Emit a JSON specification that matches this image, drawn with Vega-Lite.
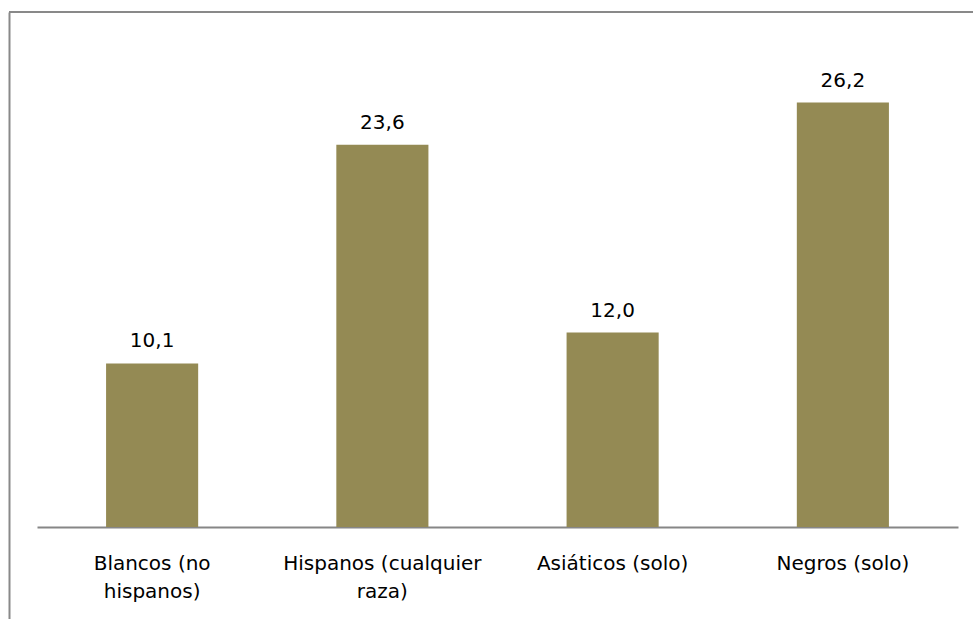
{
  "$schema": "https://vega.github.io/schema/vega-lite/v6.json",
  "width": 964,
  "height": 607,
  "autosize": {"type": "none"},
  "padding": {"left": 9, "top": 12, "right": 0, "bottom": 0},
  "background": "white",
  "config": {
    "view": {"stroke": null},
    "font": "DejaVu Sans",
    "locale": {"number": {"decimal": ",", "thousands": ".", "grouping": [3], "currency": ["", " €"]}}
  },
  "data": {
    "values": [
      {"grupo": "Blancos (no hispanos)", "valor": 10.1},
      {"grupo": "Hispanos (cualquier raza)", "valor": 23.6},
      {"grupo": "Asiáticos (solo)", "valor": 12.0},
      {"grupo": "Negros (solo)", "valor": 26.2}
    ]
  },
  "encoding": {
    "x": {
      "field": "grupo",
      "type": "nominal",
      "sort": null,
      "scale": {"range": [28, 949], "paddingInner": 0.6, "paddingOuter": 0.3},
      "axis": {
        "title": null,
        "orient": "bottom",
        "offset": -92,
        "domainColor": "#868686",
        "domainWidth": 2,
        "ticks": false,
        "labelAngle": 0,
        "labelFont": "DejaVu Sans",
        "labelFontSize": 20,
        "labelColor": "#000000",
        "labelPadding": 26,
        "labelBaseline": "top",
        "labelLineHeight": 28,
        "labelLimit": 0,
        "labelOverlap": false,
        "labelExpr": "datum.value == 'Blancos (no hispanos)' ? ['Blancos (no', 'hispanos)'] : datum.value == 'Hispanos (cualquier raza)' ? ['Hispanos (cualquier', 'raza)'] : datum.value"
      }
    },
    "y": {
      "field": "valor",
      "type": "quantitative",
      "scale": {"domain": [-5.679, 31.79], "nice": false, "zero": false},
      "axis": {
        "title": null,
        "labels": false,
        "ticks": false,
        "grid": false,
        "domainColor": "#898989",
        "domainWidth": 2
      }
    }
  },
  "layer": [
    {
      "mark": {"type": "rule", "color": "#898989", "strokeWidth": 2},
      "encoding": {"y": {"datum": 31.79}, "x": null}
    },
    {
      "mark": {"type": "bar", "color": "#948A54"},
      "encoding": {"y2": {"datum": 0}}
    },
    {
      "mark": {"type": "text", "baseline": "alphabetic", "dy": -16, "fontSize": 20, "color": "#000000", "font": "DejaVu Sans"},
      "encoding": {"text": {"field": "valor", "type": "quantitative", "format": ".1f"}}
    }
  ]
}
